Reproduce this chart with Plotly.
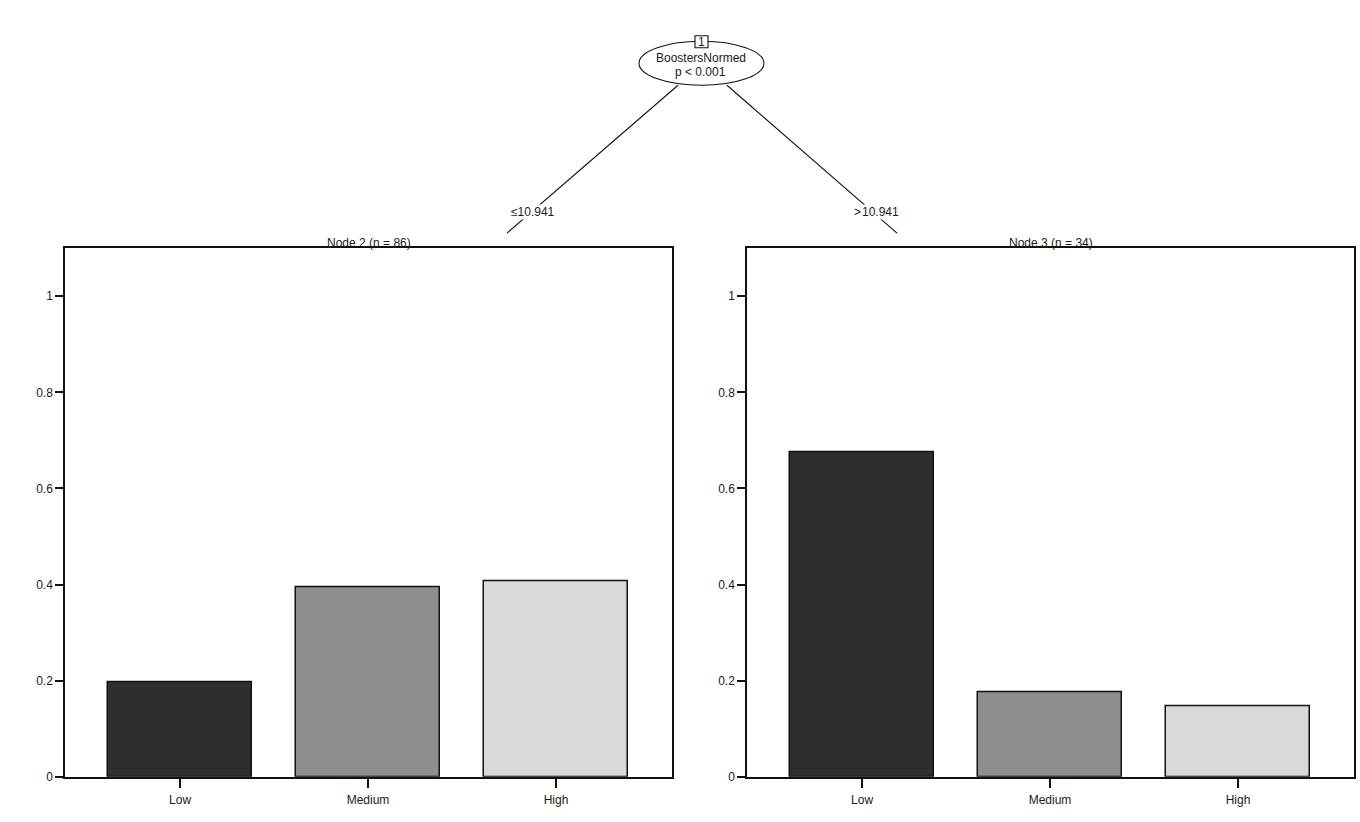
import plotly.graph_objects as go
from plotly.subplots import make_subplots

categories = ["Low", "Medium", "High"]
node2_values = [17/86, 34/86, 35/86]
node3_values = [23/34, 6/34, 5/34]
node_titles = ["Node 2 (n = 86)", "Node 3 (n = 34)"]
split_var = "BoostersNormed"
split_p = "p < 0.001"
split_labels = ["\u226410.941", ">\u200a10.941"]
bar_colors = ["#2e2e2e", "#8e8e8e", "#d9d9d9"]
y_ticks = [0, 0.2, 0.4, 0.6, 0.8, 1]
y_ticktext = ["0", "0.2", "0.4", "0.6", "0.8", "1"]

W, H = 1360, 822
H_EFF = 815.5   # effective rendered height (empirical)
Y_OFF = 0.7

def px(x):
    return x / W

def py(y):
    return 1 - (y - Y_OFF) / H_EFF

FONT = "Liberation Sans, Arial, sans-serif"
TXT = "#1a1a1a"

fig = make_subplots(rows=1, cols=2)
for i, vals in enumerate([node2_values, node3_values]):
    fig.add_trace(go.Bar(x=categories, y=vals, width=0.77,
                         marker=dict(color=bar_colors, line=dict(color="#111111", width=1.5)),
                         showlegend=False, hoverinfo="x+y"), row=1, col=i + 1)

x_domains = [[px(65), px(672)], [px(747), px(1354)]]
for i in range(2):
    ax = "xaxis" if i == 0 else "xaxis2"
    ay = "yaxis" if i == 0 else "yaxis2"
    fig.layout[ax].update(domain=x_domains[i], range=[-0.612, 2.617], showline=True, mirror=True,
                          linecolor="#111111", linewidth=1.5, ticks="outside", ticklen=9,
                          tickcolor="#111111", tickwidth=1.5, showgrid=False, zeroline=False,
                          ticklabelstandoff=2,
                          tickfont=dict(family=FONT, size=12, color=TXT), fixedrange=True)
    fig.layout[ay].update(domain=[py(778), py(249)], range=[0, 1.1], showline=True, mirror=True,
                          linecolor="#111111", linewidth=1.5, ticks="outside", ticklen=8,
                          tickcolor="#111111", tickwidth=1.5, showgrid=False, zeroline=False,
                          tickvals=y_ticks, ticktext=y_ticktext,
                          tickfont=dict(family=FONT, size=12, color=TXT), fixedrange=True)

shapes = []
# tree edges
shapes.append(dict(type="line", xref="paper", yref="paper", x0=px(678), y0=py(86), x1=px(507), y1=py(234),
                   line=dict(color="#111111", width=1.1)))
shapes.append(dict(type="line", xref="paper", yref="paper", x0=px(727), y0=py(86), x1=px(897), y1=py(234),
                   line=dict(color="#111111", width=1.1)))
# node ellipse
shapes.append(dict(type="circle", xref="paper", yref="paper", x0=px(639), x1=px(764), y0=py(86), y1=py(42),
                   fillcolor="white", line=dict(color="#111111", width=1.1)))
# node id box
shapes.append(dict(type="rect", xref="paper", yref="paper", x0=px(695), x1=px(708), y0=py(48.5), y1=py(36.5),
                   fillcolor="white", line=dict(color="#111111", width=1.1)))

def ann(text, x, y, size=12, bg=None):
    d = dict(text=text, x=x, y=y, xref="paper", yref="paper", showarrow=False,
             xanchor="center", yanchor="middle", font=dict(family=FONT, size=size, color=TXT))
    if bg:
        d.update(bgcolor=bg, borderpad=0)
    return d

annotations = [
    ann("1", px(701.5), py(42.5)),
    ann(split_var, px(701), py(59)),
    ann(split_p, px(701), py(73)),
    ann(split_labels[0], px(533), py(213), bg="white"),
    ann(split_labels[1], px(876), py(213), bg="white"),
    ann(node_titles[0], sum(x_domains[0]) / 2, py(243.5)),
    ann(node_titles[1], sum(x_domains[1]) / 2, py(243.5)),
]

fig.update_layout(width=W, height=H, margin=dict(l=0, r=0, t=0, b=0), autosize=False,
                  plot_bgcolor="white", paper_bgcolor="white", bargap=0,
                  shapes=shapes, annotations=annotations,
                  font=dict(family=FONT, size=12, color=TXT))
fig.write_html("out.html", config={"displayModeBar": False})
